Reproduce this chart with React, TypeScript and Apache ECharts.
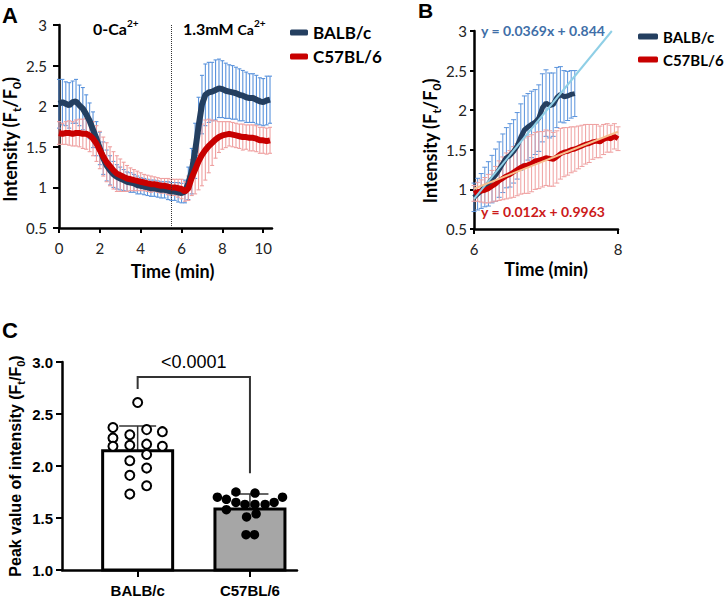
import React, { useEffect, useRef } from 'react';
import * as echarts from 'echarts';

// ---------- Panel A: time course (sampled every 10 s) ----------
const timesA = Array.from({ length: 63 }, (_, i) => i / 6);
const balbMeanA = [
  2.03, 2.05, 2.03, 2.01, 2.05, 2.06, 2.01, 1.97, 1.90, 1.82,
  1.71, 1.60, 1.48, 1.36, 1.27, 1.21, 1.16, 1.13, 1.11, 1.09,
  1.07, 1.06, 1.05, 1.03, 1.02, 1.01, 1.00, 0.99, 0.99, 0.98,
  0.97, 0.97, 0.96, 0.95, 0.95, 0.94, 0.93, 0.95, 1.05, 1.20,
  1.45, 1.75, 2.02, 2.14, 2.17, 2.18, 2.20, 2.22, 2.21, 2.19,
  2.18, 2.17, 2.16, 2.14, 2.13, 2.11, 2.10, 2.10, 2.08, 2.06,
  2.05, 2.07, 2.08,
];
const balbSdA = [
  0.30, 0.28, 0.27, 0.28, 0.26, 0.27, 0.25, 0.26, 0.24, 0.22,
  0.22, 0.21, 0.20, 0.20, 0.19, 0.18, 0.16, 0.15, 0.14, 0.13,
  0.12, 0.12, 0.11, 0.11, 0.10, 0.10, 0.10, 0.10, 0.10, 0.10,
  0.10, 0.10, 0.11, 0.11, 0.11, 0.12, 0.12, 0.14, 0.20, 0.28,
  0.34, 0.36, 0.36, 0.38, 0.37, 0.36, 0.37, 0.36, 0.35, 0.34,
  0.33, 0.33, 0.32, 0.32, 0.31, 0.31, 0.30, 0.30, 0.30, 0.29,
  0.29, 0.30, 0.29,
];
const c57MeanA = [
  1.67, 1.66, 1.67, 1.67, 1.66, 1.67, 1.67, 1.66, 1.66, 1.64,
  1.60, 1.54, 1.46, 1.38, 1.31, 1.26, 1.21, 1.17, 1.15, 1.13,
  1.11, 1.10, 1.09, 1.08, 1.07, 1.06, 1.05, 1.04, 1.04, 1.03,
  1.02, 1.02, 1.01, 1.00, 1.00, 0.99, 0.98, 0.95, 0.99, 1.12,
  1.22, 1.32, 1.40, 1.46, 1.51, 1.55, 1.59, 1.62, 1.64, 1.65,
  1.66, 1.65, 1.64, 1.63, 1.62, 1.62, 1.61, 1.61, 1.60, 1.58,
  1.58, 1.57, 1.58,
];
const c57SdA = [
  0.14, 0.13, 0.14, 0.15, 0.15, 0.16, 0.17, 0.18, 0.19, 0.20,
  0.21, 0.22, 0.23, 0.24, 0.24, 0.24, 0.23, 0.22, 0.20, 0.18,
  0.16, 0.14, 0.13, 0.12, 0.11, 0.10, 0.10, 0.10, 0.09, 0.09,
  0.09, 0.09, 0.10, 0.10, 0.10, 0.11, 0.12, 0.12, 0.15, 0.22,
  0.30, 0.35, 0.38, 0.37, 0.33, 0.28, 0.23, 0.19, 0.17, 0.16,
  0.15, 0.15, 0.15, 0.15, 0.16, 0.15, 0.16, 0.16, 0.16, 0.16,
  0.16, 0.16, 0.16,
];
const solutionSwitchMin = 5.5;
const xTicksA = [0, 2, 4, 6, 8, 10];

// ---------- Panel B: rising phase (sampled every 3 s) ----------
const timesB = Array.from({ length: 41 }, (_, i) => 6 + i * 0.05);
const balbMeanB = [
  0.90, 0.94, 0.98, 1.03, 1.07, 1.13, 1.18, 1.25, 1.33, 1.40,
  1.43, 1.48, 1.55, 1.66, 1.75, 1.79, 1.82, 1.85, 1.90, 2.03,
  2.09, 2.06, 2.07, 2.16, 2.20, 2.17, 2.18, 2.20, 2.21,
];
const balbSdB = [
  0.18, 0.20, 0.22, 0.25, 0.28, 0.30, 0.33, 0.35, 0.37, 0.38,
  0.40, 0.40, 0.42, 0.42, 0.43, 0.42, 0.42, 0.41, 0.42, 0.43,
  0.42, 0.41, 0.40, 0.38, 0.35, 0.33, 0.31, 0.30, 0.29,
];
const c57MeanB = [
  0.95, 0.97, 0.98, 0.99, 1.01, 1.04, 1.07, 1.11, 1.14, 1.17,
  1.19, 1.22, 1.25, 1.28, 1.30, 1.31, 1.33, 1.36, 1.37, 1.38,
  1.40, 1.39, 1.38, 1.41, 1.45, 1.47, 1.48, 1.50, 1.51, 1.53,
  1.55, 1.57, 1.58, 1.60, 1.61, 1.60, 1.63, 1.65, 1.64, 1.67,
  1.64,
];
const c57SdB = [
  0.10, 0.12, 0.14, 0.16, 0.18, 0.20, 0.22, 0.25, 0.27, 0.29,
  0.30, 0.32, 0.33, 0.34, 0.35, 0.36, 0.36, 0.36, 0.36, 0.35,
  0.35, 0.35, 0.34, 0.33, 0.32, 0.31, 0.30, 0.29, 0.28, 0.27,
  0.26, 0.25, 0.24, 0.22, 0.21, 0.20, 0.19, 0.18, 0.17, 0.16,
  0.15,
];
const balbFit = { slope: 0.0369, intercept: 0.844 };
const c57Fit = { slope: 0.012, intercept: 0.9963 };
const fitPointsPerMin = 30;
const fitStartMin = 6;

// ---------- Panel C: peak values ----------
const groups = ['BALB/c', 'C57BL/6'];
const peakMeans = [2.16, 1.60];
const peakSds = [0.225, 0.13];
const balbPeaks = [2.61, 2.37, 2.30, 2.35, 2.33, 2.27, 2.19, 2.20, 2.21, 2.19, 2.11, 2.05, 1.98, 1.91, 1.81, 1.73];
const balbJitter = [0, -0.22, -0.07, 0.08, 0.22, -0.22, -0.22, -0.07, 0.08, 0.22, 0.08, -0.07, 0.08, -0.07, 0.08, -0.07];
const c57Peaks = [1.70, 1.68, 1.58, 1.75, 1.65, 1.63, 1.51, 1.74, 1.63, 1.54, 1.63, 1.65, 1.70, 1.34, 1.34];
const c57Jitter = [-0.29, -0.21, -0.21, -0.125, -0.125, -0.045, -0.03, 0.045, 0.045, 0.055, 0.135, 0.215, 0.29, -0.035, 0.04];
const pValueText = '<0.0001';
const pValueY = 3.0;
const bracketTop = 2.855;
const bracketLeftEnd = 2.74;
const bracketRightEnd = 1.93;

// ---------- styles ----------
const LATO = 'Lato';
const ARIAL = 'Liberation Sans';
const BLUE = '#243f60';
const BLUE_ERR = '#5a93dc';
const RED = '#c80000';
const RED_ERR = '#efa0a0';

function errRender(capHalf: number, color: string, width: number) {
  return (_params: any, api: any) => {
    const x = api.value(0);
    const lo = api.coord([x, api.value(1)]);
    const hi = api.coord([x, api.value(2)]);
    const st = { stroke: color, lineWidth: width };
    return {
      type: 'group',
      children: [
        { type: 'line', shape: { x1: lo[0], y1: lo[1], x2: hi[0], y2: hi[1] }, style: st },
        { type: 'line', shape: { x1: hi[0] - capHalf, y1: hi[1], x2: hi[0] + capHalf, y2: hi[1] }, style: st },
        { type: 'line', shape: { x1: lo[0] - capHalf, y1: lo[1], x2: lo[0] + capHalf, y2: lo[1] }, style: st },
      ],
    };
  };
}

function bracketRender(_params: any, api: any) {
  const a = api.coord([0, bracketLeftEnd]);
  const b = api.coord([0, bracketTop]);
  const c = api.coord([1, bracketTop]);
  const d = api.coord([1, bracketRightEnd]);
  const t = api.coord([0.5, pValueY]);
  return {
    type: 'group',
    children: [
      { type: 'polyline', shape: { points: [a, b, c, d] }, style: { stroke: '#333', lineWidth: 2, fill: 'none' } },
      {
        type: 'text', x: t[0], y: t[1],
        style: { text: pValueText, font: `18px "${ARIAL}"`, fill: '#000', align: 'center', verticalAlign: 'middle' },
      },
    ],
  };
}

const errData = (ts: number[], m: number[], s: number[]) => m.map((v, i) => [ts[i], v - s[i], v + s[i]]);
const pairs = (ts: number[], m: number[]) => m.map((v, i) => [ts[i], v]);
const fitY = (f: { slope: number; intercept: number }, t: number) =>
  f.intercept + f.slope * ((t - fitStartMin) * fitPointsPerMin + 1);
const fitTAt = (f: { slope: number; intercept: number }, y: number) =>
  fitStartMin + ((y - f.intercept) / f.slope - 1) / fitPointsPerMin;

const intensityRich = (family: string, size: number, sub: number) => ({
  t: { fontFamily: family, fontWeight: 'bold', fontSize: size, lineHeight: size + 6, verticalAlign: 'middle', color: '#000' },
  s: { fontFamily: family, fontWeight: 'bold', fontSize: sub, lineHeight: sub + 2, verticalAlign: 'bottom', color: '#000' },
});

const axisLineStyle = { onZero: false, lineStyle: { color: '#000', width: 2.5 } };

function buildOption(): any {
  const blueFitEnd = Math.min(fitTAt(balbFit, 3), 8);
  return {
    animation: false,
    backgroundColor: '#fff',
    grid: [
      { left: 59, top: 25, width: 213, height: 203, outerBoundsMode: 'none' },
      { left: 474, top: 31, width: 144, height: 198, outerBoundsMode: 'none' },
      { left: 81.5, top: 362, width: 224.6, height: 208, outerBoundsMode: 'none' },
      { left: 62, top: 362, width: 235, height: 208, outerBoundsMode: 'none' },
    ],
    xAxis: [
      {
        type: 'value', gridIndex: 0, min: 0, max: 10.43,
        axisLine: axisLineStyle,
        axisTick: { show: true, length: 5, customValues: xTicksA, lineStyle: { color: '#000', width: 2 } },
        axisLabel: { customValues: xTicksA, margin: 12, fontFamily: LATO, fontSize: 15, color: '#222' },
        splitLine: { show: false },
        name: 'Time (min)', nameLocation: 'middle', nameGap: 34,
        nameTextStyle: { fontFamily: LATO, fontWeight: 'bold', fontSize: 18, color: '#000', padding: [0, 0, 0, 14] },
      },
      {
        type: 'value', gridIndex: 1, min: 6, max: 8, interval: 2,
        axisLine: axisLineStyle,
        axisTick: { show: true, length: 5, lineStyle: { color: '#000', width: 2 } },
        axisLabel: { margin: 12, fontFamily: LATO, fontSize: 15, color: '#222' },
        splitLine: { show: false },
        name: 'Time (min)', nameLocation: 'middle', nameGap: 31,
        nameTextStyle: { fontFamily: LATO, fontWeight: 'bold', fontSize: 18, color: '#000' },
      },
      {
        type: 'category', gridIndex: 2, data: groups, position: 'bottom',
        axisLine: { show: false, onZero: false },
        axisTick: { show: true, alignWithLabel: true, length: 7, lineStyle: { color: '#000', width: 2 } },
        axisLabel: { margin: 13, fontFamily: ARIAL, fontWeight: 'bold', fontSize: 15, color: '#000' },
        splitLine: { show: false },
      },
      {
        type: 'value', gridIndex: 2, min: -0.5, max: 1.5, position: 'bottom',
        axisLine: { show: false, onZero: false }, axisTick: { show: false }, axisLabel: { show: false }, splitLine: { show: false },
      },
      {
        type: 'value', gridIndex: 3, min: 0, max: 1,
        axisLine: axisLineStyle, axisTick: { show: false }, axisLabel: { show: false }, splitLine: { show: false },
      },
    ],
    yAxis: [
      {
        type: 'value', gridIndex: 0, min: 0.5, max: 3, interval: 0.5,
        axisLine: { show: true, ...axisLineStyle },
        axisTick: { show: true, length: 6, lineStyle: { color: '#000', width: 2 } },
        axisLabel: { margin: 12, fontFamily: LATO, fontSize: 15, color: '#222' },
        splitLine: { show: false },
        name: '{t|Intensity (F}{s|t}{t|/F}{s|0}{t|)}', nameLocation: 'middle', nameGap: 27,
        nameTextStyle: { rich: intensityRich(LATO, 18, 12), padding: [0, 26, 0, 0] },
      },
      {
        type: 'value', gridIndex: 1, min: 0.5, max: 3, interval: 0.5,
        axisLine: { show: true, ...axisLineStyle },
        axisTick: { show: true, length: 4, lineStyle: { color: '#000', width: 2 } },
        axisLabel: { margin: 7, fontFamily: LATO, fontSize: 15, color: '#222' },
        splitLine: { show: false },
        name: '{t|Intensity (F}{s|t}{t|/F}{s|0}{t|)}', nameLocation: 'middle', nameGap: 30,
        nameTextStyle: { rich: intensityRich(LATO, 18, 12), padding: [0, 22, 0, 0] },
      },
      {
        type: 'value', gridIndex: 2, min: 1, max: 3, interval: 0.5, offset: 19.5,
        axisLine: { show: true, ...axisLineStyle },
        axisTick: { show: true, length: 6, lineStyle: { color: '#000', width: 2 } },
        axisLabel: { margin: 9, fontFamily: ARIAL, fontWeight: 'bold', fontSize: 15, color: '#000', formatter: (v: number) => v.toFixed(1) },
        splitLine: { show: false },
        name: '{t|Peak value of intensity (F}{s|t}{t|/F}{s|0}{t|)}', nameLocation: 'middle', nameGap: 36,
        nameTextStyle: { rich: intensityRich(ARIAL, 16, 11) },
      },
      { type: 'value', gridIndex: 3, min: 0, max: 1, show: false, axisLine: { show: false, onZero: false } },
    ],
    legend: [
      {
        data: [{ name: 'BALB/c', icon: 'roundRect' }, { name: 'C57BL/6', icon: 'roundRect' }],
        orient: 'vertical', left: 285, top: 19, itemWidth: 18, itemHeight: 6, itemGap: 7, selectedMode: false,
        textStyle: { fontFamily: LATO, fontWeight: 'bold', fontSize: 17, color: '#000' },
      },
      {
        data: [{ name: 'BALB/c', icon: 'roundRect' }, { name: 'C57BL/6', icon: 'roundRect' }],
        orient: 'vertical', left: 633, top: 24, itemWidth: 20, itemHeight: 6, itemGap: 8, selectedMode: false,
        textStyle: { fontFamily: LATO, fontWeight: 'bold', fontSize: 15, color: '#000' },
      },
    ],
    graphic: [
      { type: 'text', x: 2, y: 15, style: { text: 'A', font: `bold 22px "${ARIAL}"`, fill: '#000', verticalAlign: 'middle' } },
      { type: 'text', x: 418, y: 10, style: { text: 'B', font: `bold 21px "${ARIAL}"`, fill: '#000', verticalAlign: 'middle' } },
      { type: 'text', x: 2, y: 330, style: { text: 'C', font: `bold 22px "${ARIAL}"`, fill: '#000', verticalAlign: 'middle' } },
      {
        type: 'text', x: 93, y: 27,
        style: {
          text: '{a|0-Ca}{p|2+}', verticalAlign: 'middle',
          rich: {
            a: { fontFamily: LATO, fontWeight: 'bold', fontSize: 16, lineHeight: 19, verticalAlign: 'bottom', fill: '#000' },
            p: { fontFamily: LATO, fontWeight: 'bold', fontSize: 10, lineHeight: 12, verticalAlign: 'top', fill: '#000' },
          },
        },
      },
      {
        type: 'text', x: 183, y: 27,
        style: {
          text: '{a|1.3mM }{c|Ca}{p|2+}', verticalAlign: 'middle',
          rich: {
            a: { fontFamily: LATO, fontWeight: 'bold', fontSize: 16, lineHeight: 19, verticalAlign: 'bottom', fill: '#000' },
            c: { fontFamily: LATO, fontWeight: 'bold', fontSize: 14, lineHeight: 17, verticalAlign: 'bottom', fill: '#000' },
            p: { fontFamily: LATO, fontWeight: 'bold', fontSize: 10, lineHeight: 12, verticalAlign: 'top', fill: '#000' },
          },
        },
      },
      {
        type: 'text', x: 481, y: 30,
        style: { text: `y = ${balbFit.slope}x + ${balbFit.intercept}`, font: `bold 14px "${LATO}"`, fill: '#3f6fa8', verticalAlign: 'middle' },
      },
      {
        type: 'text', x: 481, y: 211,
        style: { text: `y = ${c57Fit.slope}x + ${c57Fit.intercept}`, font: `bold 14px "${LATO}"`, fill: '#cc1a1a', verticalAlign: 'middle' },
      },
    ],
    series: [
      // ----- A -----
      {
        type: 'custom', name: 'BALB/c SD A', xAxisIndex: 0, yAxisIndex: 0,
        renderItem: errRender(2, BLUE_ERR, 1.1), data: errData(timesA, balbMeanA, balbSdA), encode: { x: 0, y: [1, 2] },
      },
      {
        type: 'custom', name: 'C57BL/6 SD A', xAxisIndex: 0, yAxisIndex: 0,
        renderItem: errRender(2, RED_ERR, 1.1), data: errData(timesA, c57MeanA, c57SdA), encode: { x: 0, y: [1, 2] },
      },
      {
        type: 'line', name: 'BALB/c', xAxisIndex: 0, yAxisIndex: 0, color: BLUE, showSymbol: false,
        lineStyle: { color: BLUE, width: 6 }, data: pairs(timesA, balbMeanA),
      },
      {
        type: 'line', name: 'C57BL/6', xAxisIndex: 0, yAxisIndex: 0, color: RED, showSymbol: false,
        lineStyle: { color: RED, width: 6 }, data: pairs(timesA, c57MeanA),
        markLine: {
          silent: true, symbol: 'none', label: { show: false },
          lineStyle: { type: 'dotted', color: '#333', width: 1 },
          data: [{ xAxis: solutionSwitchMin }],
        },
      },
      // ----- B -----
      {
        type: 'custom', name: 'BALB/c SD B', xAxisIndex: 1, yAxisIndex: 1,
        renderItem: errRender(2.5, BLUE_ERR, 1), data: errData(timesB, balbMeanB, balbSdB), encode: { x: 0, y: [1, 2] },
      },
      {
        type: 'custom', name: 'C57BL/6 SD B', xAxisIndex: 1, yAxisIndex: 1,
        renderItem: errRender(2.5, RED_ERR, 1), data: errData(timesB, c57MeanB, c57SdB), encode: { x: 0, y: [1, 2] },
      },
      {
        type: 'line', name: 'BALB/c', xAxisIndex: 1, yAxisIndex: 1, color: BLUE, showSymbol: false,
        lineStyle: { color: BLUE, width: 5 }, data: pairs(timesB, balbMeanB),
      },
      {
        type: 'line', name: 'C57BL/6', xAxisIndex: 1, yAxisIndex: 1, color: RED, showSymbol: false,
        lineStyle: { color: RED, width: 5 }, data: pairs(timesB, c57MeanB),
      },
      {
        type: 'line', name: 'BALB/c fit', xAxisIndex: 1, yAxisIndex: 1, showSymbol: false,
        lineStyle: { color: '#8fcfe6', width: 2 },
        data: [[fitStartMin, fitY(balbFit, fitStartMin)], [blueFitEnd, fitY(balbFit, blueFitEnd)]],
      },
      {
        type: 'line', name: 'C57BL/6 fit', xAxisIndex: 1, yAxisIndex: 1, showSymbol: false,
        lineStyle: { color: '#f7bf8e', width: 2 },
        data: [[fitStartMin, fitY(c57Fit, fitStartMin)], [8, fitY(c57Fit, 8)]],
      },
      // ----- C -----
      {
        type: 'bar', name: 'Peak mean', xAxisIndex: 2, yAxisIndex: 2, barWidth: 73,
        itemStyle: { borderColor: '#000', borderWidth: 3 },
        data: [
          { value: peakMeans[0], itemStyle: { color: '#ffffff' } },
          { value: peakMeans[1], itemStyle: { color: '#a6a6a6' } },
        ],
      },
      {
        type: 'custom', name: 'Peak SD', xAxisIndex: 3, yAxisIndex: 2,
        renderItem: errRender(18.5, '#333', 1.5),
        data: peakMeans.map((m, i) => [i, m - peakSds[i], m + peakSds[i]]), encode: { x: 0, y: [1, 2] },
      },
      {
        type: 'scatter', name: 'BALB/c peaks', xAxisIndex: 3, yAxisIndex: 2, symbolSize: 9,
        itemStyle: { color: '#fff', borderColor: '#000', borderWidth: 2, opacity: 1 },
        data: balbPeaks.map((v, i) => [0 + balbJitter[i], v]),
      },
      {
        type: 'scatter', name: 'C57BL/6 peaks', xAxisIndex: 3, yAxisIndex: 2, symbolSize: 9.5,
        itemStyle: { color: '#000', opacity: 1 },
        data: c57Peaks.map((v, i) => [1 + c57Jitter[i], v]),
      },
      {
        type: 'custom', name: 'bracket', xAxisIndex: 3, yAxisIndex: 2,
        renderItem: bracketRender, data: [[0.5, bracketTop]], encode: { x: 0, y: 1 },
      },
    ],
  };
}

export default function App() {
  const ref = useRef<HTMLDivElement>(null);
  useEffect(() => {
    if (!ref.current) return;
    const chart = echarts.init(ref.current, undefined, { renderer: 'svg' });
    chart.setOption(buildOption());
    return () => chart.dispose();
  }, []);
  return <div ref={ref} style={{ position: 'absolute', left: 0, top: 0, width: 726, height: 599 }} />;
}
